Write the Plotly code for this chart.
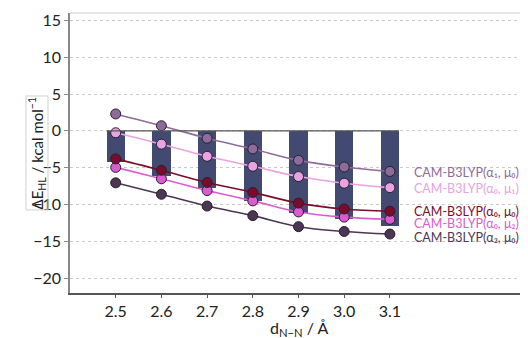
import plotly.graph_objects as go

distances = [2.5, 2.6, 2.7, 2.8, 2.9, 3.0, 3.1]
tick_labels = ["2.5", "2.6", "2.7", "2.8", "2.9", "3.0", "3.1"]
bar_values = [-4.25, -6.1, -7.8, -9.5, -11.1, -12.0, -12.9]

a1_m0 = [2.3, 0.7, -1.0, -2.45, -4.0, -4.9, -5.5]
a0_m1 = [-0.25, -1.8, -3.45, -4.8, -6.2, -7.1, -7.7]
a0_m0 = [-3.8, -5.35, -7.0, -8.35, -9.8, -10.6, -10.9]
a0_m2 = [-4.95, -6.5, -8.1, -9.5, -11.0, -11.7, -12.0]
a2_m0 = [-7.05, -8.6, -10.2, -11.5, -13.0, -13.65, -14.0]

series_names = ["CAM-B3LYP(α₁, μ₀)", "CAM-B3LYP(α₀, μ₁)", "CAM-B3LYP(α₀, μ₀)",
                "CAM-B3LYP(α₀, μ₂)", "CAM-B3LYP(α₂, μ₀)"]
series_values = [a1_m0, a0_m1, a0_m0, a0_m2, a2_m0]
series_colors = ["#8d6c9c", "#e8a3e0", "#7b0b2b", "#db5ccf", "#4b3752"]
label_y = [-5.6, -7.75, -10.9, -12.55, -14.4]

FONT = "Lato"

fig = go.Figure()
fig.add_trace(go.Bar(x=distances, y=bar_values, width=0.04,
                     marker=dict(color="#434a71", line=dict(width=0)),
                     showlegend=False))

order = [4, 3, 2, 1, 0]
for i in order:
    fig.add_trace(go.Scatter(
        x=distances, y=series_values[i], mode="lines+markers",
        line=dict(color=series_colors[i], width=1.6, shape="spline"),
        marker=dict(size=10, color=series_colors[i],
                    line=dict(color="#2a1f2e", width=1)),
        showlegend=False))

for name, col, ly in zip(series_names, series_colors, label_y):
    fig.add_annotation(x=3.148, y=ly, xref="x", yref="y", text=name,
                       showarrow=False, xanchor="left", yanchor="middle",
                       font=dict(family=FONT, size=12.5, color=col))

# zero baseline across bars
fig.add_shape(type="line", xref="x", yref="y", x0=2.48, x1=3.12, y0=0, y1=0,
              line=dict(color="#555555", width=1.2), layer="above")
# light top border
fig.add_shape(type="line", xref="paper", yref="paper", x0=0, x1=1, y0=1, y1=1,
              line=dict(color="#dddddd", width=1.5))

fig.add_annotation(x=-0.0985, y=0.5, xref="paper", yref="paper",
                   text="ΔE<sub>HL</sub> / kcal mol<sup>−1</sup>",
                   textangle=-90, showarrow=False,
                   bordercolor="#d0d0d0", borderwidth=1, borderpad=0,
                   font=dict(family=FONT, size=15, color="#222222"))
fig.add_annotation(x=0.5, y=-0.125, xref="paper", yref="paper",
                   text="d<sub>N−N</sub> / Å", showarrow=False,
                   xanchor="center", yanchor="middle",
                   font=dict(family=FONT, size=16, color="#222222"))

# page body has an 8px margin, so the figure is sized/offset to land on the reference
fig.update_layout(
    width=520, height=330,
    margin=dict(l=62, r=1, t=5, b=45),
    plot_bgcolor="white", paper_bgcolor="white",
    font=dict(family=FONT, size=15, color="#222222"),
    bargap=0,
)
fig.update_xaxes(range=[2.4, 3.4], tickvals=distances, ticktext=tick_labels,
                 showgrid=False, zeroline=False, showline=True,
                 linecolor="#555555", linewidth=1.5,
                 ticks="outside", ticklen=3, tickcolor="#555555",
                 tickfont=dict(family=FONT, size=16, color="#222222"))
fig.update_yaxes(range=[-22, 16], tickvals=[-20, -15, -10, -5, 0, 5, 10, 15],
                 ticktext=["−20", "−15", "−10", "−5", "0", "5", "10", "15"],
                 showgrid=True, gridcolor="#c8c8c8", griddash="dot", gridwidth=1,
                 zeroline=False, showline=True, linecolor="#888888", linewidth=1.5,
                 ticks="outside", ticklen=4, tickcolor="#888888",
                 tickfont=dict(family=FONT, size=16, color="#222222"))

fig.write_html("out.html")
